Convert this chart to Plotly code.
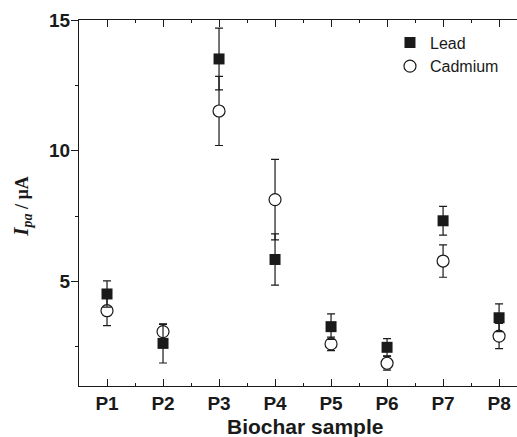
import plotly.graph_objects as go

# Biochar samples and anodic peak currents (µA) with standard deviations
samples = ["P1", "P2", "P3", "P4", "P5", "P6", "P7", "P8"]
positions = [1, 2, 3, 4, 5, 6, 7, 8]
lead_ipa = [4.52, 2.63, 13.51, 5.84, 3.27, 2.48, 7.32, 3.61]
lead_sd = [0.50, 0.75, 1.18, 0.98, 0.49, 0.33, 0.55, 0.53]
cadmium_ipa = [3.88, 3.08, 11.52, 8.13, 2.61, 1.87, 5.78, 2.91]
cadmium_sd = [0.57, 0.28, 1.32, 1.54, 0.26, 0.26, 0.62, 0.48]
y_ticks = [5, 10, 15]

ink = "#1a1a1a"
serif = "Liberation Serif, Times New Roman, serif"

fig = go.Figure()

fig.add_trace(go.Scatter(
    x=positions, y=cadmium_ipa, mode="markers", name="Cadmium",
    legendrank=2,
    marker=dict(symbol="circle", size=12, color="white",
                line=dict(color=ink, width=1.2)),
    error_y=dict(type="data", array=cadmium_sd, visible=True,
                 color=ink, thickness=1.2, width=4),
))

fig.add_trace(go.Scatter(
    x=positions, y=lead_ipa, mode="markers", name="Lead",
    legendrank=1,
    marker=dict(symbol="square", size=11, color=ink,
                line=dict(color=ink, width=0)),
    error_y=dict(type="data", array=lead_sd, visible=True,
                 color=ink, thickness=1.2, width=4),
))

# Axis titles as annotations so they can sit at fixed positions
fig.add_annotation(
    text="<b>Biochar sample</b>", xref="paper", yref="paper",
    x=0.515, y=-0.075, xanchor="center", yanchor="top", showarrow=False,
    font=dict(size=21, color=ink),
)
fig.add_annotation(
    text=("<b><span style='font-size:21px'><i>I</i></span>"
          "<sub><span style='font-size:14px'><i>pa</i></span></sub>"
          " / µA</b>"),
    xref="paper", yref="paper", x=-0.13, y=0.49,
    xanchor="center", yanchor="middle", textangle=-90, showarrow=False,
    font=dict(family=serif, size=18, color=ink),
)

fig.update_layout(
    width=517, height=437,
    margin=dict(l=79, r=0, t=20, b=51),
    plot_bgcolor="white", paper_bgcolor="white",
    font=dict(family="Liberation Sans, Arial, sans-serif", color=ink),
    legend=dict(
        x=0.71, y=0.985, xanchor="left", yanchor="top",
        bgcolor="rgba(0,0,0,0)", borderwidth=0,
        font=dict(size=16, color=ink),
        itemwidth=30, tracegroupgap=0,
    ),
    xaxis=dict(
        range=[0.5, 8.32],
        tickvals=positions, ticktext=[f"<b>{s}</b>" for s in samples],
        ticks="inside", ticklen=7, tickwidth=1.2, tickcolor=ink,
        minor=dict(dtick=0.5, tick0=0.5, ticks="inside", ticklen=3,
                   tickwidth=1.2, tickcolor=ink),
        showline=True, linecolor=ink, linewidth=1.2, mirror="ticks",
        showgrid=False, zeroline=False,
        tickfont=dict(size=19, color=ink),
    ),
    yaxis=dict(
        range=[1, 15],
        tickvals=y_ticks, ticktext=[f"<b>{v}</b>" for v in y_ticks],
        ticks="outside", ticklen=7, tickwidth=1.2, tickcolor=ink,
        minor=dict(dtick=2.5, tick0=0, ticks="outside", ticklen=3,
                   tickwidth=1.2, tickcolor=ink),
        showline=True, linecolor=ink, linewidth=1.2,
        showgrid=False, zeroline=False,
        tickfont=dict(size=19, color=ink),
        ticklabelstandoff=-3,
    ),
)

fig.write_html("out.html")
